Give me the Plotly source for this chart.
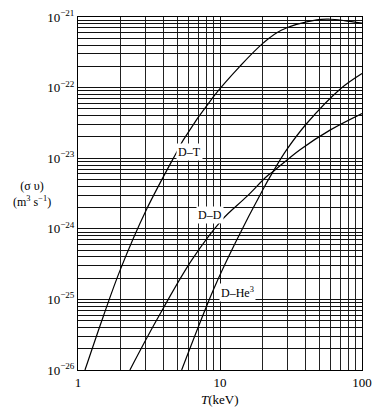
import plotly.graph_objects as go

# D-T reaction
dt_T = [1.12, 1.5, 1.98, 3.03, 5.06, 5.52, 8.97, 13.8, 20.2, 27.0, 48, 59.5, 75, 100]
dt_sv = [1.0e-26, 5.6e-26, 2.6e-25, 1.86e-24, 1.32e-23, 1.82e-23, 7.4e-23, 2.0e-22,
         4.3e-22, 6.5e-22, 9.1e-22, 9.3e-22, 8.9e-22, 8.2e-22]

# D-D reaction
dd_T = [2.32, 3.58, 6.32, 10.3, 15.4, 21.3, 23.7, 36.6, 59.5, 100]
dd_sv = [1.0e-26, 5.1e-26, 3.6e-25, 1.33e-24, 2.85e-24, 5.5e-24, 6.5e-24, 1.32e-23, 2.5e-23, 4.3e-23]

# D-He3 reaction
dhe_T = [5.37, 8.97, 12.8, 20.2, 23.7, 29.5, 40.8, 70, 100]
dhe_sv = [1.0e-26, 1.36e-25, 6.3e-25, 3.7e-24, 6.5e-24, 1.32e-23, 3.1e-23, 9.5e-23, 1.58e-22]

x_tickvals = [1, 10, 100]
x_ticktext = ["1", "10", "100"]
y_tickvals = [1e-26, 1e-25, 1e-24, 1e-23, 1e-22, 1e-21]
y_ticktext = ["10<sup>−26</sup>", "10<sup>−25</sup>", "10<sup>−24</sup>",
              "10<sup>−23</sup>", "10<sup>−22</sup>", "10<sup>−21</sup>"]

x_grid = [k * 10 ** n for n in range(0, 2) for k in range(1, 10)] + [100]
y_grid = [k * 10.0 ** n for n in range(-26, -21) for k in range(1, 10)] + [1e-21]

FONT = "Liberation Serif"

fig = go.Figure()
for xs, ys in [(dt_T, dt_sv), (dd_T, dd_sv), (dhe_T, dhe_sv)]:
    fig.add_trace(go.Scatter(x=xs, y=ys, mode="lines", line=dict(color="black", width=1.2, shape="spline"),
                             showlegend=False, hoverinfo="skip"))

fig.update_layout(
    width=382, height=406,
    margin=dict(l=70, r=28, t=9, b=44),
    paper_bgcolor="white", plot_bgcolor="white",
    font=dict(family=FONT, size=12, color="black"),
    xaxis=dict(type="log", range=[0, 2], tickmode="array", tickvals=x_tickvals, ticktext=x_ticktext,
               showgrid=True, gridcolor="#111", gridwidth=1, ticks="", ticklen=0,
               showline=True, mirror=True, linecolor="black", linewidth=1, zeroline=False,
               minor=dict(tickmode="array", tickvals=x_grid, showgrid=True, gridcolor="#222", gridwidth=1, ticks=""),
               tickfont=dict(family=FONT, size=13), automargin=False),
    yaxis=dict(type="log", range=[-26, -21], tickmode="array", tickvals=y_tickvals, ticktext=y_ticktext,
               showgrid=True, gridcolor="#111", gridwidth=1, ticks="", ticklen=0,
               showline=True, mirror=True, linecolor="black", linewidth=1, zeroline=False,
               minor=dict(tickmode="array", tickvals=y_grid, showgrid=True, gridcolor="#111", gridwidth=1, ticks=""),
               tickfont=dict(family=FONT, size=13), automargin=False),
)

ann_font = dict(family=FONT, size=12, color="black")
fig.add_annotation(x=0.782, y=-22.91, xref="x", yref="y", text="D–T", showarrow=False,
                   font=ann_font, bgcolor="white")
fig.add_annotation(x=0.93, y=-23.80, xref="x", yref="y", text="D–D", showarrow=False,
                   font=ann_font, bgcolor="white")
fig.add_annotation(x=1.12, y=-24.90, xref="x", yref="y", text="D–He<sup>3</sup>", showarrow=False,
                   font=ann_font, bgcolor="white")
fig.add_annotation(x=-0.162, y=0.50, xref="paper", yref="paper", xanchor="center", yanchor="middle",
                   text="(σ υ)<br>(m<sup>3</sup> s<sup>−1</sup>)", showarrow=False,
                   font=dict(family=FONT, size=12, color="black"))
fig.add_annotation(x=0.5, y=-0.058, xref="paper", yref="paper", xanchor="center", yanchor="top",
                   text="<i>T</i>(keV)", showarrow=False,
                   font=dict(family=FONT, size=13, color="black"))

fig.write_html("out.html")
